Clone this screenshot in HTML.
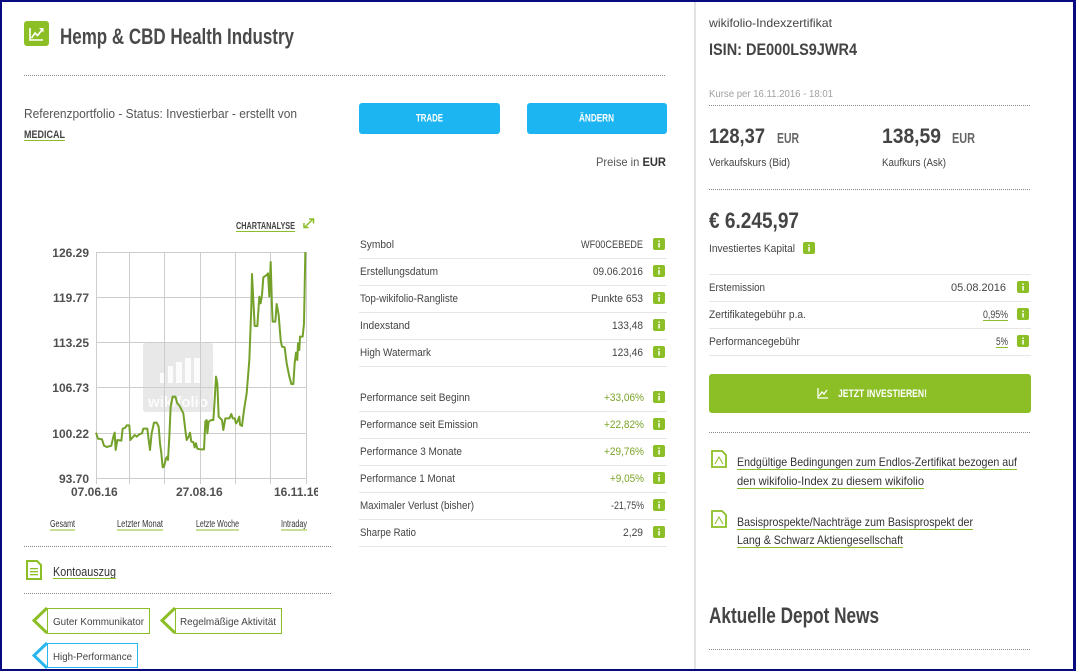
<!DOCTYPE html>
<html><head><meta charset="utf-8"><style>
html,body{margin:0;padding:0;background:#fff;}
svg{display:block;}
.t{font-family:"Liberation Sans",sans-serif;fill:#444;}
.c{font-family:"Liberation Sans Narrow","Liberation Sans",sans-serif;font-weight:bold;fill:#444;}
.n{font-family:"Liberation Sans Narrow","Liberation Sans",sans-serif;fill:#333;}
.ax{font-family:"Liberation Sans",sans-serif;font-weight:bold;font-size:12px;fill:#505050;}
.w{fill:#fff !important;}
.g{fill:#7ba428 !important;}
</style></head><body>
<svg width="1076" height="671" viewBox="0 0 1076 671" xmlns="http://www.w3.org/2000/svg">
<rect x="0" y="0" width="1076" height="671" fill="#fff"/>
<rect x="694" y="0" width="2" height="671" fill="#e2e2e2"/>

<!-- Title -->
<rect x="24" y="21" width="25" height="25" rx="3" fill="#8cbf26"/>
<polyline points="30,28 30,40 43,40" fill="none" stroke="#fff" stroke-width="1.6"/>
<polyline points="31.5,38 35,33 37.5,35.5 42,30" fill="none" stroke="#fff" stroke-width="1.6"/>
<polygon points="43.5,28 43.5,32.5 39,28" fill="#fff"/>
<text class="c" x="60" y="44" font-size="22" textLength="234" lengthAdjust="spacingAndGlyphs" style="fill:#4a4a4a">Hemp &amp; CBD Health Industry</text>

<line x1="24" y1="75.5" x2="666" y2="75.5" stroke="#888" stroke-width="1" stroke-dasharray="1 1"/>

<text class="t" x="24" y="118" font-size="12.5" textLength="273" lengthAdjust="spacingAndGlyphs" style="fill:#555">Referenzportfolio - Status: Investierbar - erstellt von</text>
<text class="c" x="24" y="138" font-size="11" textLength="41" lengthAdjust="spacingAndGlyphs">MEDICAL</text>
<rect x="24" y="140" width="41" height="1" fill="#8cbf26"/>

<!-- Buttons -->
<rect x="359" y="103" width="141" height="31" rx="3" fill="#1db5f1"/>
<text class="c w" x="416" y="121.5" font-size="11" textLength="27" lengthAdjust="spacingAndGlyphs">TRADE</text>
<rect x="527" y="103" width="140" height="31" rx="3" fill="#1db5f1"/>
<text class="c w" x="579" y="121.5" font-size="11" textLength="35" lengthAdjust="spacingAndGlyphs">ÄNDERN</text>

<text class="t" x="596" y="166" font-size="12" textLength="70" lengthAdjust="spacingAndGlyphs" style="fill:#555">Preise in <tspan font-weight="bold" style="fill:#333">EUR</tspan></text>

<!-- Left table -->
<g font-size="11">
<text class="t" x="360" y="248" textLength="34" lengthAdjust="spacingAndGlyphs">Symbol</text>
<text class="t" x="643" y="248" text-anchor="end" textLength="62" lengthAdjust="spacingAndGlyphs">WF00CEBEDE</text>
<text class="t" x="360" y="275" textLength="78" lengthAdjust="spacingAndGlyphs">Erstellungsdatum</text>
<text class="t" x="643" y="275" text-anchor="end" textLength="50" lengthAdjust="spacingAndGlyphs">09.06.2016</text>
<text class="t" x="360" y="302" textLength="98" lengthAdjust="spacingAndGlyphs">Top-wikifolio-Rangliste</text>
<text class="t" x="643" y="302" text-anchor="end" textLength="52" lengthAdjust="spacingAndGlyphs">Punkte 653</text>
<text class="t" x="360" y="329" textLength="50" lengthAdjust="spacingAndGlyphs">Indexstand</text>
<text class="t" x="643" y="329" text-anchor="end" textLength="31" lengthAdjust="spacingAndGlyphs">133,48</text>
<text class="t" x="360" y="356" textLength="71" lengthAdjust="spacingAndGlyphs">High Watermark</text>
<text class="t" x="643" y="356" text-anchor="end" textLength="31" lengthAdjust="spacingAndGlyphs">123,46</text>

<text class="t" x="360" y="401" textLength="110" lengthAdjust="spacingAndGlyphs">Performance seit Beginn</text>
<text class="t g" x="644" y="401" text-anchor="end" textLength="40" lengthAdjust="spacingAndGlyphs">+33,06%</text>
<text class="t" x="360" y="428" textLength="118" lengthAdjust="spacingAndGlyphs">Performance seit Emission</text>
<text class="t g" x="644" y="428" text-anchor="end" textLength="40" lengthAdjust="spacingAndGlyphs">+22,82%</text>
<text class="t" x="360" y="455" textLength="102" lengthAdjust="spacingAndGlyphs">Performance 3 Monate</text>
<text class="t g" x="644" y="455" text-anchor="end" textLength="40" lengthAdjust="spacingAndGlyphs">+29,76%</text>
<text class="t" x="360" y="482" textLength="95" lengthAdjust="spacingAndGlyphs">Performance 1 Monat</text>
<text class="t g" x="644" y="482" text-anchor="end" textLength="34" lengthAdjust="spacingAndGlyphs">+9,05%</text>
<text class="t" x="360" y="509" textLength="114" lengthAdjust="spacingAndGlyphs">Maximaler Verlust (bisher)</text>
<text class="t" x="644" y="509" text-anchor="end" textLength="33" lengthAdjust="spacingAndGlyphs">-21,75%</text>
<text class="t" x="360" y="536" textLength="56" lengthAdjust="spacingAndGlyphs">Sharpe Ratio</text>
<text class="t" x="643" y="536" text-anchor="end" textLength="20" lengthAdjust="spacingAndGlyphs">2,29</text>
</g>
<g fill="#e6e6e6">
<rect x="359" y="258" width="308" height="1"/>
<rect x="359" y="285" width="308" height="1"/>
<rect x="359" y="312" width="308" height="1"/>
<rect x="359" y="339" width="308" height="1"/>
<rect x="359" y="366" width="308" height="1"/>
<rect x="359" y="411" width="308" height="1"/>
<rect x="359" y="438" width="308" height="1"/>
<rect x="359" y="465" width="308" height="1"/>
<rect x="359" y="492" width="308" height="1"/>
<rect x="359" y="519" width="308" height="1"/>
<rect x="359" y="546" width="308" height="1"/>
</g>
<g fill="#8cbf26">
<rect x="653" y="238" width="12" height="12" rx="2"/>
<rect x="653" y="265" width="12" height="12" rx="2"/>
<rect x="653" y="292" width="12" height="12" rx="2"/>
<rect x="653" y="319" width="12" height="12" rx="2"/>
<rect x="653" y="346" width="12" height="12" rx="2"/>
<rect x="653" y="391" width="12" height="12" rx="2"/>
<rect x="653" y="418" width="12" height="12" rx="2"/>
<rect x="653" y="445" width="12" height="12" rx="2"/>
<rect x="653" y="472" width="12" height="12" rx="2"/>
<rect x="653" y="499" width="12" height="12" rx="2"/>
<rect x="653" y="526" width="12" height="12" rx="2"/>
<rect x="1017" y="281" width="12" height="12" rx="2"/>
<rect x="1017" y="308" width="12" height="12" rx="2"/>
<rect x="1017" y="335" width="12" height="12" rx="2"/>
<rect x="803" y="242" width="12" height="12" rx="2"/>
</g>
<g fill="#fff">
<rect x="658.3" y="240.5" width="1.5" height="1.5"/><rect x="658.3" y="243" width="1.5" height="4.5"/>
<rect x="658.3" y="267.5" width="1.5" height="1.5"/><rect x="658.3" y="270" width="1.5" height="4.5"/>
<rect x="658.3" y="294.5" width="1.5" height="1.5"/><rect x="658.3" y="297" width="1.5" height="4.5"/>
<rect x="658.3" y="321.5" width="1.5" height="1.5"/><rect x="658.3" y="324" width="1.5" height="4.5"/>
<rect x="658.3" y="348.5" width="1.5" height="1.5"/><rect x="658.3" y="351" width="1.5" height="4.5"/>
<rect x="658.3" y="393.5" width="1.5" height="1.5"/><rect x="658.3" y="396" width="1.5" height="4.5"/>
<rect x="658.3" y="420.5" width="1.5" height="1.5"/><rect x="658.3" y="423" width="1.5" height="4.5"/>
<rect x="658.3" y="447.5" width="1.5" height="1.5"/><rect x="658.3" y="450" width="1.5" height="4.5"/>
<rect x="658.3" y="474.5" width="1.5" height="1.5"/><rect x="658.3" y="477" width="1.5" height="4.5"/>
<rect x="658.3" y="501.5" width="1.5" height="1.5"/><rect x="658.3" y="504" width="1.5" height="4.5"/>
<rect x="658.3" y="528.5" width="1.5" height="1.5"/><rect x="658.3" y="531" width="1.5" height="4.5"/>
<rect x="1022.3" y="283.5" width="1.5" height="1.5"/><rect x="1022.3" y="286" width="1.5" height="4.5"/>
<rect x="1022.3" y="310.5" width="1.5" height="1.5"/><rect x="1022.3" y="313" width="1.5" height="4.5"/>
<rect x="1022.3" y="337.5" width="1.5" height="1.5"/><rect x="1022.3" y="340" width="1.5" height="4.5"/>
<rect x="808.3" y="244.5" width="1.5" height="1.5"/><rect x="808.3" y="247" width="1.5" height="4.5"/>
</g>

<!-- Chart -->
<text class="c" x="236" y="229" font-size="10" textLength="59" lengthAdjust="spacingAndGlyphs">CHARTANALYSE</text>
<rect x="236" y="231" width="59" height="1" fill="#8cbf26"/>
<g stroke="#8cbf26" stroke-width="1.5" fill="none">
<line x1="305" y1="227" x2="313" y2="219"/>
<polyline points="309,219 313.5,219 313.5,223.5"/>
<polyline points="304,223 304,227.5 308.5,227.5"/>
</g>

<rect x="143" y="343" width="70" height="69" rx="3" fill="#e4e4e4" opacity="0.85"/>
<g fill="#fff" opacity="0.9">
<rect x="160" y="373" width="5" height="10"/>
<rect x="168" y="366" width="5" height="17"/>
<rect x="176" y="362" width="6" height="21"/>
<rect x="185" y="358" width="6" height="25"/>
<rect x="194" y="358" width="6" height="25"/>
</g>
<text x="178" y="407" text-anchor="middle" font-family="Liberation Sans,sans-serif" font-weight="bold" font-size="15" fill="#fff" opacity="0.9">wikifolio</text>

<g stroke="#cdcdcd" stroke-width="1">
<line x1="96" y1="252.5" x2="306" y2="252.5"/>
<line x1="96" y1="297.5" x2="306" y2="297.5"/>
<line x1="96" y1="342.5" x2="306" y2="342.5"/>
<line x1="96" y1="387.5" x2="306" y2="387.5"/>
<line x1="96" y1="433.5" x2="306" y2="433.5"/>
<line x1="96" y1="478.5" x2="306" y2="478.5"/>
<line x1="96.5" y1="252" x2="96.5" y2="484"/>
<line x1="129.5" y1="252" x2="129.5" y2="484"/>
<line x1="164.5" y1="252" x2="164.5" y2="484"/>
<line x1="200.5" y1="252" x2="200.5" y2="484"/>
<line x1="235.5" y1="252" x2="235.5" y2="484"/>
<line x1="270.5" y1="252" x2="270.5" y2="484"/>
<line x1="306.5" y1="252" x2="306.5" y2="484"/>
</g>
<g text-anchor="end">
<text class="ax" x="89" y="257">126.29</text>
<text class="ax" x="89" y="302">119.77</text>
<text class="ax" x="89" y="347">113.25</text>
<text class="ax" x="89" y="392">106.73</text>
<text class="ax" x="89" y="438">100.22</text>
<text class="ax" x="89" y="483">93.70</text>
</g>
<clipPath id="cl"><rect x="0" y="480" width="318" height="20"/></clipPath>
<g clip-path="url(#cl)">
<text class="ax" x="71" y="496">07.06.16</text>
<text class="ax" x="176" y="496">27.08.16</text>
<text class="ax" x="274" y="496">16.11.16</text>
</g>

<g transform="translate(90,240) scale(0.33333)">
<path fill="none" stroke="#74a12a" stroke-width="6" stroke-linejoin="round" d="M18,578 L24,596 L36,598 L42,617 L50,621 L64,617 L70,590 L74,578 L77,630 L82,600 L94,602 L98,566 L106,563 L110,556 L118,556 L121,600 L128,592 L134,585 L140,590 L148,583 L156,580 L160,566 L172,566 L176,600 L180,630 L185,580 L192,548 L200,548 L206,560 L210,610 L214,640 L218,682 L222,680 L228,655 L232,650 L234,660 L238,590 L242,500 L248,470 L256,470 L262,490 L266,494 L270,500 L280,520 L286,570 L290,600 L296,590 L300,578 L304,605 L310,606 L314,622 L318,610 L322,626 L330,628 L342,628 L346,545 L350,540 L352,580 L356,545 L364,540 L370,540 L374,480 L378,410 L382,430 L386,530 L396,540 L400,570 L406,535 L418,535 L424,522 L428,535 L434,535 L438,550 L442,545 L448,530 L450,554 L456,558 L462,510 L470,460 L478,360 L484,200 L486,102 L490,180 L494,258 L502,258 L508,170 L512,190 L516,165 L520,112 L530,105 L534,100 L538,170 L542,66 L546,200 L548,245 L556,245 L560,192 L566,225 L572,300 L576,320 L584,322 L590,370 L598,410 L604,432 L610,432 L614,370 L618,338 L622,360 L624,310 L628,330 L630,290 L638,290 L642,250 L646,36"/>
</g>

<text class="n" x="50" y="527" font-size="10" textLength="25" lengthAdjust="spacingAndGlyphs">Gesamt</text>
<rect x="50" y="529.5" width="25" height="1" fill="#8cbf26"/>
<text class="n" x="117" y="527" font-size="10" textLength="46" lengthAdjust="spacingAndGlyphs">Letzter Monat</text>
<rect x="117" y="529.5" width="46" height="1" fill="#8cbf26"/>
<text class="n" x="196" y="527" font-size="10" textLength="43" lengthAdjust="spacingAndGlyphs">Letzte Woche</text>
<rect x="196" y="529.5" width="43" height="1" fill="#8cbf26"/>
<text class="n" x="281" y="527" font-size="10" textLength="26" lengthAdjust="spacingAndGlyphs">Intraday</text>
<rect x="281" y="529.5" width="26" height="1" fill="#8cbf26"/>

<line x1="24" y1="546.5" x2="331" y2="546.5" stroke="#888" stroke-width="1" stroke-dasharray="1 1"/>
<path d="M27,561 L37,561 L41,565 L41,579 L27,579 Z" fill="none" stroke="#8cbf26" stroke-width="2"/>
<g fill="#8cbf26"><rect x="30" y="568" width="8" height="1.3"/><rect x="30" y="571" width="8" height="1.3"/><rect x="30" y="574" width="8" height="1.3"/></g>
<text class="n" x="53" y="576" font-size="12.5" textLength="63" lengthAdjust="spacingAndGlyphs">Kontoauszug</text>
<rect x="53" y="578" width="63" height="1" fill="#8cbf26"/>
<line x1="24" y1="593.5" x2="332" y2="593.5" stroke="#888" stroke-width="1" stroke-dasharray="1 1"/>

<rect x="47.5" y="608.5" width="102" height="25" fill="#fff" stroke="#8cbf26" stroke-width="1"/>
<polyline points="47,608 34,620.5 47,633" fill="none" stroke="#8cbf26" stroke-width="3"/>
<text class="t" x="53" y="625" font-size="10.5" textLength="91" lengthAdjust="spacingAndGlyphs">Guter Kommunikator</text>

<rect x="175.5" y="608.5" width="106" height="25" fill="#fff" stroke="#8cbf26" stroke-width="1"/>
<polyline points="175,608 162,620.5 175,633" fill="none" stroke="#8cbf26" stroke-width="3"/>
<text class="t" x="180" y="625" font-size="10.5" textLength="96" lengthAdjust="spacingAndGlyphs">Regelmäßige Aktivität</text>

<rect x="47.5" y="643.5" width="90" height="24" fill="#fff" stroke="#29b6ee" stroke-width="1"/>
<polyline points="47,643 34,655.5 47,668" fill="none" stroke="#29b6ee" stroke-width="3"/>
<text class="t" x="53" y="660" font-size="10.5" textLength="79" lengthAdjust="spacingAndGlyphs">High-Performance</text>

<!-- Right panel -->
<text class="t" x="709" y="27" font-size="12" textLength="123" lengthAdjust="spacingAndGlyphs">wikifolio-Indexzertifikat</text>
<text class="c" x="709" y="55" font-size="17" textLength="148" lengthAdjust="spacingAndGlyphs">ISIN: DE000LS9JWR4</text>
<text class="t" x="709" y="97" font-size="10" textLength="124" lengthAdjust="spacingAndGlyphs" style="fill:#a0a0a0">Kurse per 16.11.2016 - 18:01</text>
<line x1="709" y1="105.5" x2="1030" y2="105.5" stroke="#888" stroke-width="1" stroke-dasharray="1 1"/>

<text class="c" x="709" y="143" font-size="21" textLength="56" lengthAdjust="spacingAndGlyphs">128,37</text>
<text class="c" x="777" y="143" font-size="15" textLength="22" lengthAdjust="spacingAndGlyphs" style="fill:#666">EUR</text>
<text class="c" x="882" y="143" font-size="21" textLength="59" lengthAdjust="spacingAndGlyphs">138,59</text>
<text class="c" x="952" y="143" font-size="15" textLength="23" lengthAdjust="spacingAndGlyphs" style="fill:#666">EUR</text>
<text class="t" x="709" y="166" font-size="11" textLength="81" lengthAdjust="spacingAndGlyphs">Verkaufskurs (Bid)</text>
<text class="t" x="882" y="166" font-size="11" textLength="64" lengthAdjust="spacingAndGlyphs">Kaufkurs (Ask)</text>
<line x1="709" y1="189.5" x2="1030" y2="189.5" stroke="#888" stroke-width="1" stroke-dasharray="1 1"/>

<text class="c" x="709" y="228" font-size="22" textLength="90" lengthAdjust="spacingAndGlyphs">€ 6.245,97</text>
<text class="t" x="709" y="252" font-size="11" textLength="86" lengthAdjust="spacingAndGlyphs">Investiertes Kapital</text>

<g fill="#e6e6e6">
<rect x="709" y="274" width="322" height="1"/>
<rect x="709" y="301" width="322" height="1"/>
<rect x="709" y="328" width="322" height="1"/>
<rect x="709" y="355" width="322" height="1"/>
</g>
<text class="t" x="709" y="291" font-size="11" textLength="56" lengthAdjust="spacingAndGlyphs">Erstemission</text>
<text class="t" x="1006" y="291" font-size="11" text-anchor="end" textLength="55" lengthAdjust="spacingAndGlyphs">05.08.2016</text>
<text class="t" x="709" y="318" font-size="11" textLength="97" lengthAdjust="spacingAndGlyphs">Zertifikategebühr p.a.</text>
<text class="t" x="1008" y="318" font-size="11" text-anchor="end" textLength="25" lengthAdjust="spacingAndGlyphs">0,95%</text>
<rect x="983" y="320" width="25" height="1" fill="#8cbf26"/>
<text class="t" x="709" y="345" font-size="11" textLength="91" lengthAdjust="spacingAndGlyphs">Performancegebühr</text>
<text class="t" x="1008" y="345" font-size="11" text-anchor="end" textLength="12" lengthAdjust="spacingAndGlyphs">5%</text>
<rect x="996" y="347" width="12" height="1" fill="#8cbf26"/>

<rect x="709" y="374" width="322" height="39" rx="3" fill="#8cbf26"/>
<polyline points="818,388 818,398 828,398" fill="none" stroke="#fff" stroke-width="1.3"/>
<polyline points="819,396 822,392 824,394 827,390" fill="none" stroke="#fff" stroke-width="1.3"/>
<text class="c w" x="838" y="397" font-size="11" textLength="89" lengthAdjust="spacingAndGlyphs">JETZT INVESTIEREN!</text>

<line x1="709" y1="432.5" x2="1030" y2="432.5" stroke="#888" stroke-width="1" stroke-dasharray="1 1"/>

<path d="M712,451 L722,451 L726,455 L726,467 L712,467 Z" fill="#fff" stroke="#8cbf26" stroke-width="1.8"/>
<path d="M715,464 L719,457 L723,464" fill="none" stroke="#8cbf26" stroke-width="1"/>
<text class="n" x="737" y="466" font-size="12" textLength="280" lengthAdjust="spacingAndGlyphs">Endgültige Bedingungen zum Endlos-Zertifikat bezogen auf</text>
<rect x="737" y="469" width="280" height="1" fill="#8cbf26"/>
<text class="n" x="737" y="485" font-size="12" textLength="187" lengthAdjust="spacingAndGlyphs">den wikifolio-Index zu diesem wikifolio</text>
<rect x="737" y="488" width="187" height="1" fill="#8cbf26"/>

<path d="M712,511 L722,511 L726,515 L726,527 L712,527 Z" fill="#fff" stroke="#8cbf26" stroke-width="1.8"/>
<path d="M715,524 L719,517 L723,524" fill="none" stroke="#8cbf26" stroke-width="1"/>
<text class="n" x="737" y="526" font-size="12" textLength="236" lengthAdjust="spacingAndGlyphs">Basisprospekte/Nachträge zum Basisprospekt der</text>
<rect x="737" y="529" width="236" height="1" fill="#8cbf26"/>
<text class="n" x="737" y="544" font-size="12" textLength="166" lengthAdjust="spacingAndGlyphs">Lang &amp; Schwarz Aktiengesellschaft</text>
<rect x="737" y="547" width="166" height="1" fill="#8cbf26"/>

<text class="c" x="709" y="623" font-size="22" textLength="170" lengthAdjust="spacingAndGlyphs">Aktuelle Depot News</text>
<line x1="709" y1="649.5" x2="1030" y2="649.5" stroke="#888" stroke-width="1" stroke-dasharray="1 1"/>

<rect x="0" y="0" width="1076" height="2" fill="#0a0a80"/>
<rect x="0" y="669" width="1076" height="2" fill="#0a0a80"/>
<rect x="0" y="0" width="2" height="671" fill="#0a0a80"/>
<rect x="1073" y="0" width="3" height="671" fill="#0a0a80"/>
</svg>
</body></html>
